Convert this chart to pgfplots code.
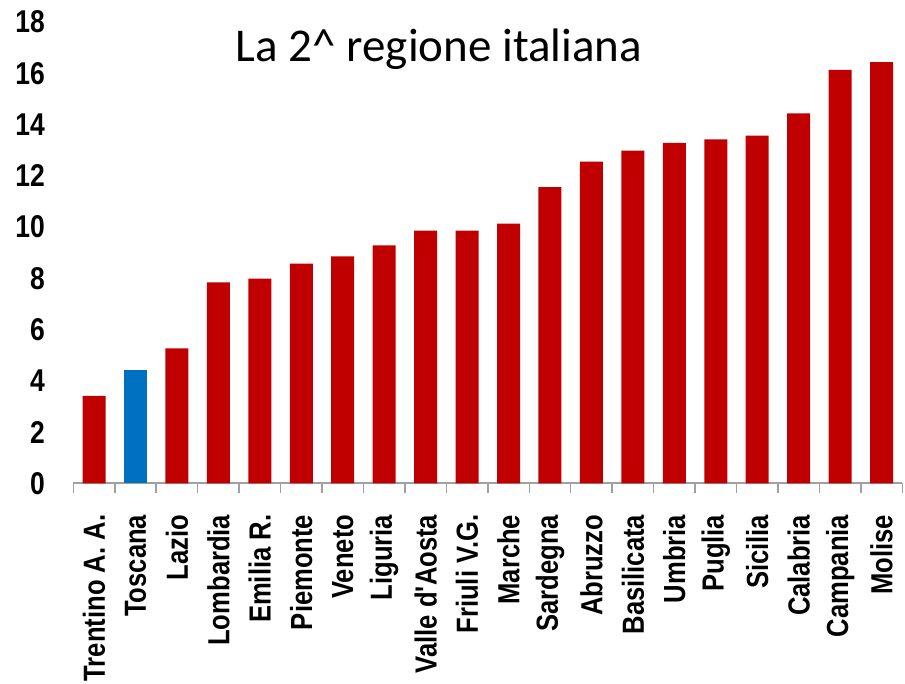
\documentclass[border=0pt]{standalone}
\usepackage{pgfplots}
\pgfplotsset{compat=1.18}
\usepackage{fontspec}
\newfontfamily\narrowfont[FakeStretch=0.84]{Liberation Sans}
\newfontfamily\titlefont{Carlito}
\definecolor{barred}{HTML}{C00000}
\definecolor{barblue}{HTML}{0070C0}
\definecolor{axgray}{HTML}{A0A0A0}
\begin{document}
\begin{tikzpicture}[x=1pt,y=1pt]
\path[use as bounding box] (0,0) rectangle (905,683);
\begin{axis}[
  at={(73.3pt,199.7pt)}, anchor=south west,
  scale only axis, width=829pt, height=461.3pt,
  ymin=0, ymax=18, xmin=-0.5, xmax=19.5,
  ytick={0,2,...,18},
  axis x line*=bottom, axis y line*=left,
  y axis line style={draw=none},
  x axis line style={draw=axgray, line width=2pt},
  ytick style={draw=none},
  xtick={0,...,19},
  major x tick style={draw=none},
  minor xtick={-0.5,0.5,...,19.5},
  minor x tick style={draw=axgray, line width=1.5pt},
  minor tick length=10pt,
  tick align=outside,
  xticklabels={Trentino A. A.,Toscana,Lazio,Lombardia,Emilia R.,Piemonte,Veneto,Liguria,Valle d'Aosta,Friuli V.G.,Marche,Sardegna,Abruzzo,Basilicata,Umbria,Puglia,Sicilia,Calabria,Campania,Molise},
  xticklabel style={yshift=-27pt, rotate=90, anchor=east, inner sep=0pt, font=\narrowfont\bfseries\fontsize{30.5}{30.5}\selectfont},
  yticklabel style={anchor=east, inner sep=0pt, xshift=-24pt, font=\narrowfont\bfseries\fontsize{31.5}{31.5}\selectfont},
  /pgf/number format/assume math mode=true,
  ybar, bar width=23pt, bar shift=0pt,
  clip=false,
]
\addplot[fill=barred, draw=none] coordinates {
(0,3.41) (2,5.26) (3,7.84) (4,7.99) (5,8.57) (6,8.85) (7,9.28) (8,9.86) (9,9.86)
(10,10.13) (11,11.56) (12,12.55) (13,12.98) (14,13.28) (15,13.42) (16,13.57)
(17,14.43) (18,16.13) (19,16.43)};
\addplot[fill=barblue, draw=none] coordinates {(1,4.43)};
\end{axis}
\node[anchor=base, inner sep=0pt, font=\titlefont\fontsize{47}{47}\selectfont] at (439,621) {La 2\^{} regione italiana};
\end{tikzpicture}
\end{document}
